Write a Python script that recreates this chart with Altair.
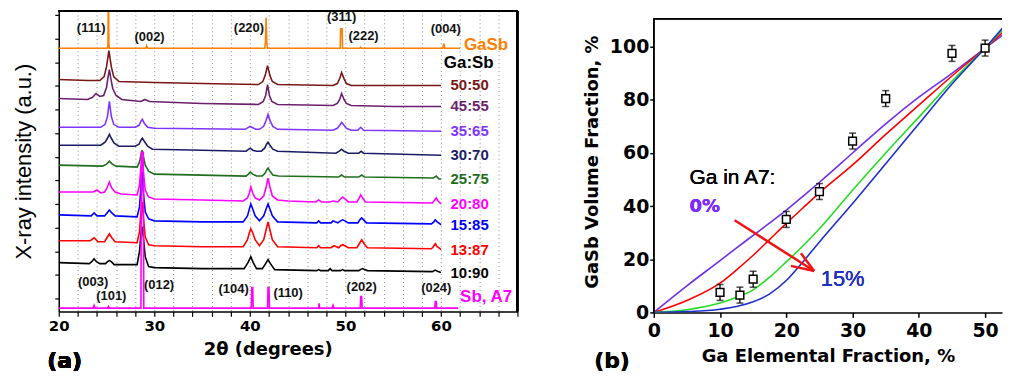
import altair as alt
import pandas as pd

# ---------------- Panel (a): XRD traces, (2theta [deg], intensity [a.u.]) ----------------
gasb_ref = [(20, 264.5), (25.1, 264.5), (25.15, 268), (25.2, 330), (25.25, 268), (25.3, 264.5),
            (29.1, 264.5), (29.2, 267), (29.3, 264.5), (41.55, 264.5), (41.63, 270), (41.7, 295),
            (41.77, 270), (41.85, 264.5), (49.45, 264.5), (49.5, 284), (49.65, 284), (49.7, 264.5),
            (51.5, 264.5), (51.6, 265.5), (51.7, 264.5), (60.2, 264.5), (60.3, 269), (60.4, 264.5),
            (62, 264.5)]
t_50_50 = [(20, 233), (23.0, 232), (24.3, 232), (24.75, 236), (25.0, 246), (25.25, 262), (25.5, 246),
           (25.75, 236), (26.3, 231), (30, 230), (35, 229), (40.9, 228), (41.35, 231), (41.6, 237),
           (41.85, 247), (42.1, 237), (42.35, 231), (42.9, 228), (48.7, 227), (49.15, 229), (49.4, 234),
           (49.6, 240), (49.85, 234), (50.1, 229), (50.6, 227), (55, 227), (60, 227)]
t_45_55 = [(20, 214), (23.0, 213), (23.5, 215), (23.9, 219), (24.3, 216), (24.7, 217), (25.0, 225),
           (25.15, 235), (25.3, 243), (25.45, 234), (25.65, 224), (26.0, 217), (26.6, 213), (28.6, 211),
           (29.0, 213), (29.5, 211), (35, 209), (40.9, 208), (41.4, 211), (41.65, 217), (41.85, 228),
           (42.05, 217), (42.3, 211), (42.9, 208), (48.7, 207), (49.15, 209), (49.4, 213), (49.6, 219),
           (49.85, 213), (50.1, 209), (50.6, 207), (55, 206), (60, 206)]
t_35_65 = [(20, 185), (24.4, 185), (24.85, 188), (25.1, 196), (25.3, 211), (25.5, 196), (25.75, 188),
           (26.3, 185), (28.0, 185), (28.4, 187), (28.6, 191), (28.75, 193), (28.95, 189), (29.3, 185),
           (30, 184), (39.5, 183), (39.85, 185), (40.0, 186), (40.2, 185), (40.6, 183), (41.0, 183),
           (41.45, 186), (41.7, 192), (41.9, 198), (42.1, 192), (42.4, 186), (42.9, 183), (48.7, 182),
           (49.15, 184), (49.4, 187), (49.6, 190), (49.85, 187), (50.1, 184), (50.6, 182), (51.3, 182),
           (51.6, 185), (51.9, 182), (60, 181)]
t_30_70 = [(20, 167), (24.4, 167), (24.85, 170), (25.1, 174), (25.3, 178), (25.5, 174), (25.8, 169),
           (26.3, 166), (28.0, 166), (28.4, 168), (28.6, 172), (28.75, 174), (28.95, 171), (29.3, 166),
           (29.8, 163), (35, 162), (39.6, 161), (39.9, 163), (40.05, 164), (40.3, 162), (40.7, 161),
           (41.2, 161), (41.55, 164), (41.75, 168), (41.9, 170), (42.1, 167), (42.4, 163), (42.9, 161),
           (49.0, 159), (49.35, 161), (49.6, 163), (49.85, 161), (50.3, 159), (51.4, 159), (51.65, 161),
           (51.9, 159), (60, 157)]
t_25_75 = [(20, 147), (24.6, 146), (25.0, 148), (25.3, 151), (25.6, 148), (26.0, 146), (28.2, 145),
           (28.45, 150), (28.6, 157), (28.72, 162), (28.85, 156), (29.05, 147), (29.4, 141), (30, 138),
           (35, 137), (39.6, 136), (39.85, 138), (40.05, 140), (40.3, 138), (40.7, 136), (41.3, 136),
           (41.6, 139), (41.8, 143), (41.9, 144), (42.1, 141), (42.4, 137), (43, 136), (49.3, 135),
           (49.6, 137), (49.9, 135), (51.4, 135), (51.7, 137), (52.0, 135), (59.2, 134), (59.5, 136),
           (59.8, 133), (60, 133)]
t_20_80 = [(20, 120), (23.6, 120), (24.0, 122), (24.4, 119), (24.8, 120), (25.05, 124), (25.3, 130),
           (25.55, 124), (25.9, 120), (26.5, 118), (28.2, 117), (28.45, 127), (28.6, 145), (28.72, 155),
           (28.85, 140), (29.05, 122), (29.4, 115), (30, 113), (35, 112), (39.3, 111), (39.75, 114),
           (39.95, 119), (40.1, 125), (40.3, 119), (40.55, 114), (41.0, 112), (41.45, 116), (41.7, 125),
           (41.9, 134), (42.1, 125), (42.35, 116), (42.9, 112), (44, 111), (46.9, 110), (47.2, 112),
           (47.5, 110), (48.4, 110), (48.7, 111), (49.2, 110), (49.5, 113), (49.7, 115), (49.95, 113),
           (50.3, 110), (51.2, 110), (51.45, 114), (51.6, 117), (51.8, 114), (52.1, 110), (59.1, 109),
           (59.35, 112), (59.5, 114), (59.7, 111), (60, 108)]
t_15_85 = [(20, 97), (23.4, 96), (23.7, 99), (24.0, 96), (24.8, 96), (25.05, 99), (25.3, 102),
           (25.55, 99), (25.9, 96), (28.2, 95), (28.45, 105), (28.6, 125), (28.72, 140), (28.85, 120),
           (29.05, 100), (29.4, 93), (30, 91), (35, 90), (39.3, 90), (39.75, 96), (39.95, 103),
           (40.1, 108), (40.3, 103), (40.55, 96), (41.0, 91), (41.45, 96), (41.7, 103), (41.9, 108),
           (42.1, 103), (42.35, 96), (42.9, 90), (47, 89), (47.2, 91), (47.4, 89), (48.5, 89),
           (48.7, 91), (49.2, 89), (49.5, 91), (49.7, 92), (49.95, 91), (50.3, 89), (51.3, 89),
           (51.5, 92), (51.7, 94), (51.9, 92), (52.2, 89), (59.0, 88), (59.25, 90), (59.4, 92),
           (59.6, 90), (59.9, 88), (60, 87)]
t_13_87 = [(20, 71), (23.3, 71), (23.7, 74), (24.1, 70), (24.8, 70), (25.05, 74), (25.3, 78),
           (25.55, 74), (25.9, 70), (28.2, 69), (28.45, 80), (28.6, 100), (28.72, 110), (28.85, 95),
           (29.05, 75), (29.4, 67), (30, 66), (35, 65), (39.3, 65), (39.75, 72), (39.95, 79),
           (40.1, 83), (40.3, 79), (40.55, 72), (41.0, 66), (41.45, 72), (41.7, 82), (41.9, 90),
           (42.1, 82), (42.35, 72), (42.9, 65), (47, 64), (47.2, 66), (47.4, 64), (48.5, 64),
           (48.8, 66), (49.3, 64), (49.5, 66), (49.7, 67), (49.95, 66), (50.3, 64), (51.2, 64),
           (51.45, 68), (51.7, 72), (51.95, 68), (52.3, 64), (59.0, 63), (59.2, 65), (59.4, 68),
           (59.6, 65), (59.9, 63), (60, 62)]
t_10_90 = [(20, 49), (23.2, 48), (23.45, 50), (23.7, 53), (23.95, 50), (24.3, 48), (24.9, 48),
           (25.1, 50), (25.3, 51), (25.5, 50), (25.8, 47), (28.2, 47), (28.45, 60), (28.6, 78),
           (28.72, 85), (28.85, 75), (29.05, 55), (29.4, 45), (30, 44), (35, 43), (39.4, 43),
           (39.8, 49), (40.1, 55), (40.35, 49), (40.7, 43), (41.3, 43), (41.65, 48), (41.9, 52),
           (42.15, 48), (42.6, 42), (47, 41), (47.2, 42), (47.4, 41), (48.2, 41), (48.4, 43),
           (48.6, 41), (49.5, 41), (49.7, 42), (49.9, 41), (51.4, 41), (51.65, 42.5), (51.8, 43),
           (52.0, 42), (52.3, 41), (59.1, 40), (59.4, 41.5), (59.7, 40), (60, 39)]
sb_ref = [(20, 3.3), (23.6, 3.3), (23.7, 6), (23.8, 3.3), (25.1, 3.3), (25.2, 5), (25.3, 3.3),
          (28.6, 3.3), (28.65, 160), (28.85, 160), (28.9, 3.3), (40.15, 3.3), (40.2, 24), (40.3, 24),
          (40.35, 3.3), (41.85, 3.3), (41.9, 24), (42.0, 24), (42.05, 3.3), (47.2, 3.3), (47.25, 8),
          (47.3, 3.3), (48.6, 3.3), (48.7, 6), (48.8, 3.3), (51.55, 3.3), (51.6, 15), (51.7, 15),
          (51.75, 3.3), (59.35, 3.3), (59.4, 10), (59.5, 10), (59.55, 3.3), (61.8, 3.3)]

trace_names = ["GaSb", "50:50", "45:55", "35:65", "30:70", "25:75", "20:80", "15:85", "13:87", "10:90", "Sb, A7"]
trace_data = [gasb_ref, t_50_50, t_45_55, t_35_65, t_30_70, t_25_75, t_20_80, t_15_85, t_13_87, t_10_90, sb_ref]
trace_colors = ["#FF7F00", "#7A1616", "#6C1F6C", "#7F35FF", "#1C1C66", "#1E6E1E",
                "#FF00FF", "#0000FF", "#FF0000", "#000000", "#FF00FF"]

# right-hand labels of panel (a)
side_text = ["GaSb", "Ga:Sb", "50:50", "45:55", "35:65", "30:70", "25:75", "20:80", "15:85", "13:87", "10:90", "Sb, A7"]
side_x = [62.4, 60.3, 61.0, 61.0, 61.0, 61.0, 61.0, 61.0, 61.0, 61.0, 61.0, 62.0]
side_y = [268, 250, 228, 206, 181, 157, 133, 108, 87, 62, 39, 14]
side_color = ["#FF7F00", "#000000", "#7A1616", "#6C1F6C", "#7F35FF", "#1C1C66", "#1E6E1E",
              "#FF00FF", "#0000FF", "#FF0000", "#000000", "#FF00FF"]
side_size = [17, 17, 15, 15, 15, 15, 15, 15, 15, 15, 15, 17]

# Miller indices
miller_text = ["(111)", "(002)", "(220)", "(311)", "(222)", "(004)",
               "(003)", "(101)", "(012)", "(104)", "(110)", "(202)", "(024)"]
miller_x = [23.4, 29.5, 39.9, 49.6, 51.9, 60.5, 23.6, 25.5, 30.5, 38.3, 44.0, 51.7, 59.5]
miller_y = [285, 276, 285, 296, 277, 284, 30, 15, 27, 22, 18, 24, 23]

xa_ticks = list(range(20, 69, 2))
ya_ticks = [13 + 23.75 * k for k in range(13)]

# ---------------- Panel (b) data ----------------
ga_frac = [0, 5, 10, 12.5, 15, 17.5, 20, 22.5, 25, 30, 35, 40, 45, 50, 54]
vf_ga0 = [0, 10, 19.5, 24.3, 29, 33.7, 38.5, 43.7, 49, 60, 71, 81, 90, 99.5, 107]
vf_ga5 = [0, 4.5, 11, 16, 21.5, 27.5, 33.5, 39.3, 45, 55.5, 67, 78, 89, 99.5, 108.5]
vf_ga10 = [0, 1, 3.5, 5.7, 8.5, 13.3, 19, 25, 31.5, 46, 60, 73.5, 87, 99.5, 110]
vf_ga15 = [0, 0.3, 1.2, 2.2, 4, 7, 12, 19, 26.5, 41, 56, 71, 86, 99.5, 111]
curve_names = ["0%", "5%", "10%", "15%"]
curve_colors = ["#7030E8", "#FF0000", "#22DD22", "#1E2FD0"]

meas_x = [10, 13, 15, 20, 25, 30, 35, 45, 50]
meas_y = [7.5, 6.5, 12.5, 35, 45.5, 64.5, 80.5, 97.5, 99.5]
meas_err = [3, 3, 3, 3, 3, 3, 3, 3, 3]

arrow_x = [12.2, 22.2, 20.7]
arrow_y = [34.7, 22.3, 17.5]
arrow_x2 = [24.2, 24.2, 24.2]
arrow_y2 = [15.6, 15.6, 15.6]

# ---------------- build tables ----------------
rows = []
for name, pts, col in zip(trace_names, trace_data, trace_colors):
    for i, (xv, yv) in enumerate(pts):
        rows.append({"series": name, "x": xv, "y": yv, "i": i, "c": col})
df_tr = pd.DataFrame(rows)
df_side = pd.DataFrame({"t": side_text, "x": side_x, "y": side_y, "c": side_color, "s": side_size})
df_mil = pd.DataFrame({"t": miller_text, "x": miller_x, "y": miller_y})

crow = []
for name, col, ys in zip(curve_names, curve_colors, [vf_ga0, vf_ga5, vf_ga10, vf_ga15]):
    for xv, yv in zip(ga_frac, ys):
        crow.append({"series": name, "x": xv, "y": yv, "c": col})
df_cur = pd.DataFrame(crow)
df_meas = pd.DataFrame({"x": meas_x, "y": meas_y,
                        "lo": [a - e for a, e in zip(meas_y, meas_err)],
                        "hi": [a + e for a, e in zip(meas_y, meas_err)]})
df_arrow = pd.DataFrame({"x": arrow_x, "y": arrow_y, "x2": arrow_x2, "y2": arrow_y2})

# ---------------- panel (a) ----------------
WA, HA = 461, 302
xa = alt.X("x:Q", scale=alt.Scale(domain=[20, 68], nice=False, zero=False),
           axis=alt.Axis(values=xa_ticks, labelExpr="datum.value % 10 === 0 ? datum.label : ''",
                         labelFlush=False,
                         grid=True, gridDash=[1, 3], gridColor="#8c8c8c", gridWidth=1,
                         tickSize=5, tickColor="black", tickWidth=1.2,
                         domainColor="black", domainWidth=1.5,
                         labelFont="DejaVu Sans", labelFontWeight="bold", labelFontSize=15,
                         labelColor="black", labelPadding=2,
                         title="2θ (degrees)", titleFont="DejaVu Sans", titleFontWeight="bold",
                         titleFontSize=18, titleColor="black", titlePadding=7, titleX=210))
ya = alt.Y("y:Q", scale=alt.Scale(domain=[0, HA], nice=False, zero=False),
           axis=alt.Axis(values=ya_ticks, labels=False, grid=False, tickSize=4, tickColor="black",
                         tickWidth=1.2, domainColor="black", domainWidth=1.5,
                         title="X-ray intensity (a.u.)", titleFont="Liberation Sans",
                         titleFontWeight="normal", titleFontSize=22, titleColor="black",
                         titlePadding=19))

lines_a = alt.Chart(df_tr).mark_line(clip=True, strokeWidth=1.6).encode(
    x=xa, y=ya, color=alt.Color("c:N", scale=None), detail="series:N", order="i:Q")
side_a = alt.Chart(df_side).mark_text(align="left", baseline="middle", font="Liberation Sans",
                                      fontWeight="bold").encode(
    x=xa, y=ya, text="t:N", color=alt.Color("c:N", scale=None), size=alt.Size("s:Q", scale=None))
mil_a = alt.Chart(df_mil).mark_text(align="center", baseline="middle", font="Liberation Sans",
                                    fontWeight="bold", fontSize=13, color="#111111").encode(
    x=xa, y=ya, text="t:N")
frame_top_a = alt.Chart(df_side).mark_rule(color="black", strokeWidth=1.5).encode(
    x=alt.value(0), x2=alt.value(WA), y=alt.value(0))
frame_right_a = alt.Chart(df_side).mark_rule(color="black", strokeWidth=1.5).encode(
    x=alt.value(WA), y=alt.value(0), y2=alt.value(HA))
label_a = alt.Chart(df_side).mark_text(text="(a)", font="DejaVu Sans", fontWeight="bold", fontSize=22,
                                       align="center", baseline="middle", color="black").encode(
    x=alt.value(6), y=alt.value(352))

panel_a = alt.layer(lines_a, mil_a, side_a, frame_top_a, frame_right_a, label_a).properties(
    width=WA, height=HA)

# ---------------- panel (b) ----------------
# plot area starts 8 px above the drawn frame so that both panels share the same top
WB, HB = 350, 303
TOPB = 8
XB_DOM = [0, 52.55]
YB_DOM = [0, 113.5]
xb = alt.X("x:Q", scale=alt.Scale(domain=XB_DOM, nice=False, zero=False),
           axis=alt.Axis(values=list(range(0, 55, 5)),
                         labelExpr="datum.value % 10 === 0 ? datum.label : ''",
                         labelFlush=False,
                         grid=False, tickSize=5, tickColor="black", tickWidth=1.5,
                         domainColor="black", domainWidth=1.5,
                         labelFont="DejaVu Sans", labelFontWeight="bold", labelFontSize=19,
                         labelColor="black", labelPadding=4,
                         title="Ga Elemental Fraction, %", titleFont="DejaVu Sans",
                         titleFontWeight="bold", titleFontSize=18, titleColor="black", titlePadding=7))
yb = alt.Y("y:Q", scale=alt.Scale(domain=YB_DOM, nice=False, zero=False),
           axis=alt.Axis(values=list(range(0, 101, 10)),
                         labelExpr="datum.value % 20 === 0 ? datum.label : ''",
                         grid=False, domain=False, tickSize=4, tickColor="black", tickWidth=1.5,
                         labelFont="DejaVu Sans", labelFontWeight="bold", labelFontSize=19,
                         labelColor="black", labelPadding=1,
                         title="GaSb Volume Fraction, %", titleFont="DejaVu Sans",
                         titleFontWeight="bold", titleFontSize=18, titleColor="black", titlePadding=8))
yb_plain = lambda f: alt.Y(f, scale=alt.Scale(domain=YB_DOM, nice=False, zero=False))
xd = lambda v: alt.datum(v, type="quantitative", scale=alt.Scale(domain=XB_DOM, nice=False, zero=False))
yd = lambda v: alt.datum(v, type="quantitative", scale=alt.Scale(domain=YB_DOM, nice=False, zero=False))

curves_b = alt.Chart(df_cur).mark_line(clip=True, strokeWidth=1.6, interpolate="monotone").encode(
    x=xb, y=yb, color=alt.Color("c:N", scale=None), detail="series:N")
err_b = alt.Chart(df_meas).mark_rule(color="black", strokeWidth=1.3).encode(
    x=xb, y=yb_plain("lo:Q"), y2="hi:Q")
cap_lo = alt.Chart(df_meas).mark_tick(orient="horizontal", size=7, thickness=1.5, color="black").encode(
    x=xb, y=yb_plain("lo:Q"))
cap_hi = alt.Chart(df_meas).mark_tick(orient="horizontal", size=7, thickness=1.5, color="black").encode(
    x=xb, y=yb_plain("hi:Q"))
pts_b = alt.Chart(df_meas).mark_point(shape="square", filled=True, fill="white", stroke="black",
                                      strokeWidth=1.5, size=60, opacity=1).encode(x=xb, y=yb)
arrow_b = alt.Chart(df_arrow).mark_rule(color="#F01414", strokeWidth=2.5).encode(
    x=xb, y=yb, x2="x2:Q", y2="y2:Q")
txt_ga = alt.Chart(df_arrow).mark_text(text="Ga in A7:", align="left", baseline="middle",
                                       font="Liberation Sans", fontSize=21, color="black").encode(
    x=xd(5.4), y=yd(50.6))
txt_0 = alt.Chart(df_arrow).mark_text(text="0%", align="left", baseline="middle",
                                      font="DejaVu Sans", fontWeight="bold", fontSize=18,
                                      color="#7F2BFF").encode(x=xd(5.4), y=yd(39.7))
txt_15 = alt.Chart(df_arrow).mark_text(text="15%", align="left", baseline="middle",
                                       font="Liberation Sans", fontSize=22, color="#2030C0").encode(
    x=xd(25.2), y=yd(12.4))
mask_top_b = alt.Chart(df_arrow).mark_rect(color="white").encode(
    x=alt.value(0), x2=alt.value(WB), y=alt.value(0), y2=alt.value(TOPB))
frame_top_b = alt.Chart(df_arrow).mark_rule(color="black", strokeWidth=1.5).encode(
    x=alt.value(0), x2=alt.value(WB), y=alt.value(TOPB))
frame_left_b = alt.Chart(df_arrow).mark_rule(color="black", strokeWidth=1.5).encode(
    x=alt.value(0), y=alt.value(TOPB), y2=alt.value(HB))
label_b = alt.Chart(df_arrow).mark_text(text="(b)", font="DejaVu Sans", fontWeight="bold", fontSize=22,
                                        align="center", baseline="middle", color="black").encode(
    x=alt.value(-42), y=alt.value(352))

panel_b = alt.layer(curves_b, err_b, cap_lo, cap_hi, pts_b, arrow_b, txt_ga, txt_0, txt_15,
                    mask_top_b, frame_top_b, frame_left_b, label_b).properties(width=WB, height=HB)

chart = alt.hconcat(panel_a, panel_b, spacing=63).properties(
    padding={"left": 3, "top": 0, "right": 0, "bottom": 0},
    background="white"
).configure_view(stroke="transparent")

chart.save("out.html", embed_options={"renderer": "svg", "actions": False})
